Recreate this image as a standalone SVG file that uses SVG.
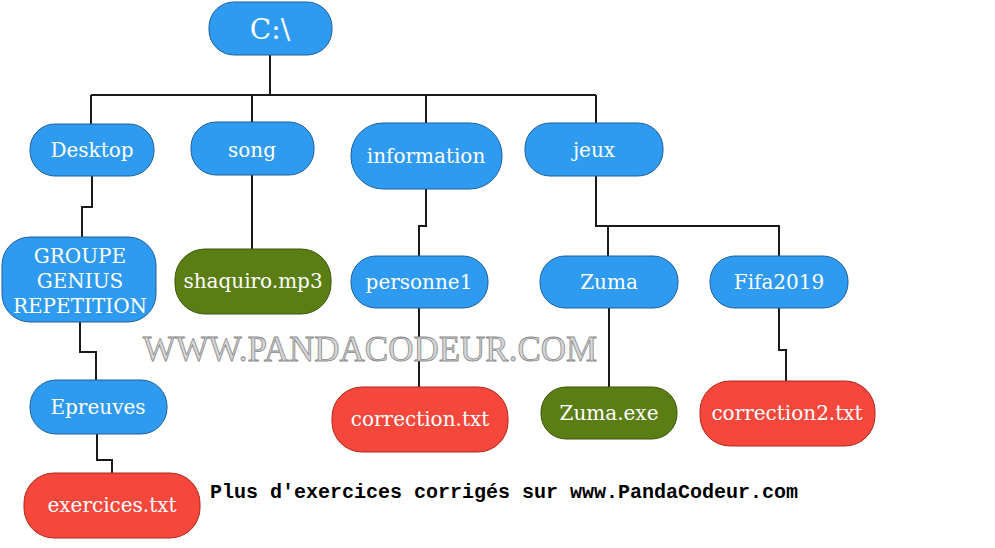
<svg xmlns="http://www.w3.org/2000/svg" width="995" height="548" viewBox="0 0 995 548">
<style>
.n rect{stroke:#1f5f9a;stroke-width:1}
.b rect{fill:#2f9bf0}
.g rect{fill:#5b7e14;stroke:#3d560c}
.r rect{fill:#f5473b;stroke:#b0281e}
.n text{fill:#fff;font-family:"DejaVu Serif","Liberation Serif",serif;font-size:20px;text-anchor:middle;dominant-baseline:central}
#conn path{fill:none;stroke:#1a1a1a;stroke-width:2}
</style>
<rect width="995" height="548" fill="#fff"/>
<g id="conn">
<path d="M270 55V95M91 95H596M91 95V124M252 95V122M426 95V123M596 95V123"/>
<path d="M92 176V207H82V237"/>
<path d="M80 322V352H96V380"/>
<path d="M97 434V460H112V473"/>
<path d="M252 175V249"/>
<path d="M426 189V226H419V256M419 308V387"/>
<path d="M596 176V226H779V256M608 226V256M609 308V387"/>
<path d="M779 308V350H786V381"/>
</g>
<text x="370" y="361" font-family="Liberation Serif,serif" font-size="35" fill="#d6d6d6" stroke="#8a8a8a" stroke-width="0.8" text-anchor="middle">WWW.PANDACODEUR.COM</text>
<g id="root" class="n b"><rect x="209" y="2" width="123" height="53" rx="25"/><text x="270" y="29" style="font-size:28px">C:\</text></g>
<g id="desktop" class="n b"><rect x="30" y="124" width="124" height="52" rx="25"/><text x="92" y="150">Desktop</text></g>
<g id="song" class="n b"><rect x="191" y="122" width="123" height="53" rx="25"/><text x="252" y="150">song</text></g>
<g id="information" class="n b"><rect x="351" y="123" width="151" height="66" rx="32"/><text x="426" y="156">information</text></g>
<g id="jeux" class="n b"><rect x="525" y="123" width="138" height="53" rx="25"/><text x="594" y="150">jeux</text></g>
<g id="groupe" class="n b"><rect x="2" y="237" width="154" height="85" rx="28"/><text x="80" y="256">GROUPE</text><text x="80" y="281">GENIUS</text><text x="80" y="306">REPETITION</text></g>
<g id="shaquiro" class="n g"><rect x="175" y="249" width="156" height="65" rx="30"/><text x="253" y="281">shaquiro.mp3</text></g>
<g id="personne1" class="n b"><rect x="351" y="256" width="137" height="52" rx="25"/><text x="419" y="282">personne1</text></g>
<g id="zuma" class="n b"><rect x="540" y="256" width="138" height="52" rx="25"/><text x="609" y="282">Zuma</text></g>
<g id="fifa" class="n b"><rect x="710" y="256" width="138" height="52" rx="25"/><text x="779" y="282">Fifa2019</text></g>
<g id="epreuves" class="n b"><rect x="30" y="380" width="137" height="54" rx="26"/><text x="98" y="407">Epreuves</text></g>
<g id="correction" class="n r"><rect x="332" y="387" width="176" height="65" rx="30"/><text x="420" y="419">correction.txt</text></g>
<g id="zumaexe" class="n g"><rect x="541" y="387" width="136" height="52" rx="25"/><text x="609" y="413">Zuma.exe</text></g>
<g id="correction2" class="n r"><rect x="700" y="381" width="175" height="65" rx="30"/><text x="787" y="413">correction2.txt</text></g>
<g id="exercices" class="n r"><rect x="24" y="473" width="176" height="65" rx="30"/><text x="112" y="505">exercices.txt</text></g>
<text x="210" y="498" font-family="Liberation Mono,monospace" font-weight="bold" font-size="20" fill="#000">Plus d'exercices corrigés sur www.PandaCodeur.com</text>
</svg>
